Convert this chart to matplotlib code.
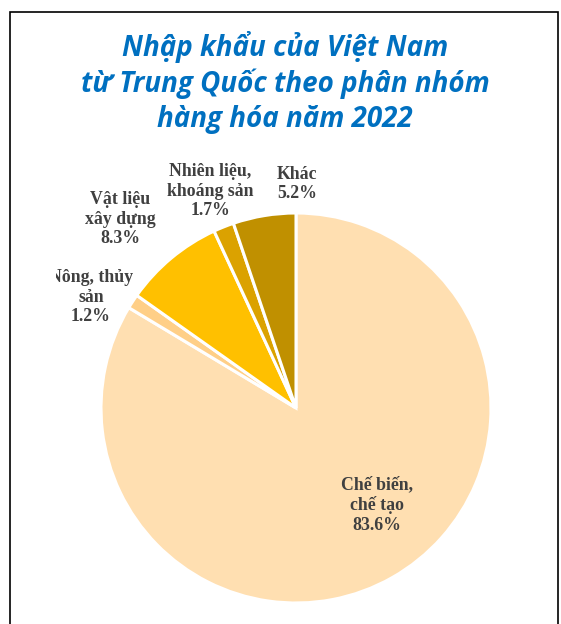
import matplotlib.pyplot as plt
from matplotlib.patches import Rectangle
from matplotlib.transforms import Bbox

# import shares by product group, 2022 (%)
groups = ['Chế biến,\nchế tạo', 'Nông, thủy\nsản', 'Vật liệu\nxây dựng',
          'Nhiên liệu,\nkhoáng sản', 'Khác']
shares = [83.6, 1.2, 8.3, 1.7, 5.2]
colors = ['#FFDFB1', '#FFCF87', '#FFC000', '#DBA200', '#C09000']
title_lines = ['Nhập khẩu của Việt Nam', 'từ Trung Quốc theo phân nhóm',
               'hàng hóa năm 2022']

W, H = 561, 624
fig = plt.figure(figsize=(W / 100, H / 100), dpi=100)

# pie centre and radius in pixels
cx, cy, r = 296, 408, 195
ax = fig.add_axes([(cx - r) / W, (H - cy - r) / H, 2 * r / W, 2 * r / H])
ax.pie(shares, colors=colors, startangle=90, counterclock=False, radius=1,
       wedgeprops=dict(edgecolor='white', linewidth=2.2))
ax.set_xlim(-1, 1)
ax.set_ylim(-1, 1)
ax.set_aspect('equal')
ax.axis('off')

# label positions (pixel centres)
label_pos = [(377, 505), (91, 297), (120, 219), (210, 191), (297, 184)]
texts = []
for name, val, (px, py) in zip(groups, shares, label_pos):
    t = ax.text((px - cx) / r, (cy - py) / r, f'{name}\n{val}%', ha='center', va='center',
                fontsize=12.8, fontweight='bold', family='Liberation Serif',
                color='#404040', linespacing=1.2, clip_on=False)
    texts.append(t)
# the "Nông, thủy" box is cut on its left side
texts[1].set_clip_on(True)
texts[1].set_clip_box(Bbox.from_extents(56, 0, W, H))

# title
for i, line in enumerate(title_lines):
    fig.text(285 / W, 1 - (47 + 36.5 * i) / H, line, ha='center', va='center',
             fontsize=20, fontweight='bold', fontstyle='italic', family='Open Sans',
             color='#0070C0')

# frame
fig.patches.append(Rectangle((9.5 / W, -0.1), (558 - 9.5) / W, 1.1 - 11.5 / H,
                             transform=fig.transFigure, fill=False,
                             edgecolor='black', linewidth=1.2))

fig.savefig('out.png', dpi=100)
